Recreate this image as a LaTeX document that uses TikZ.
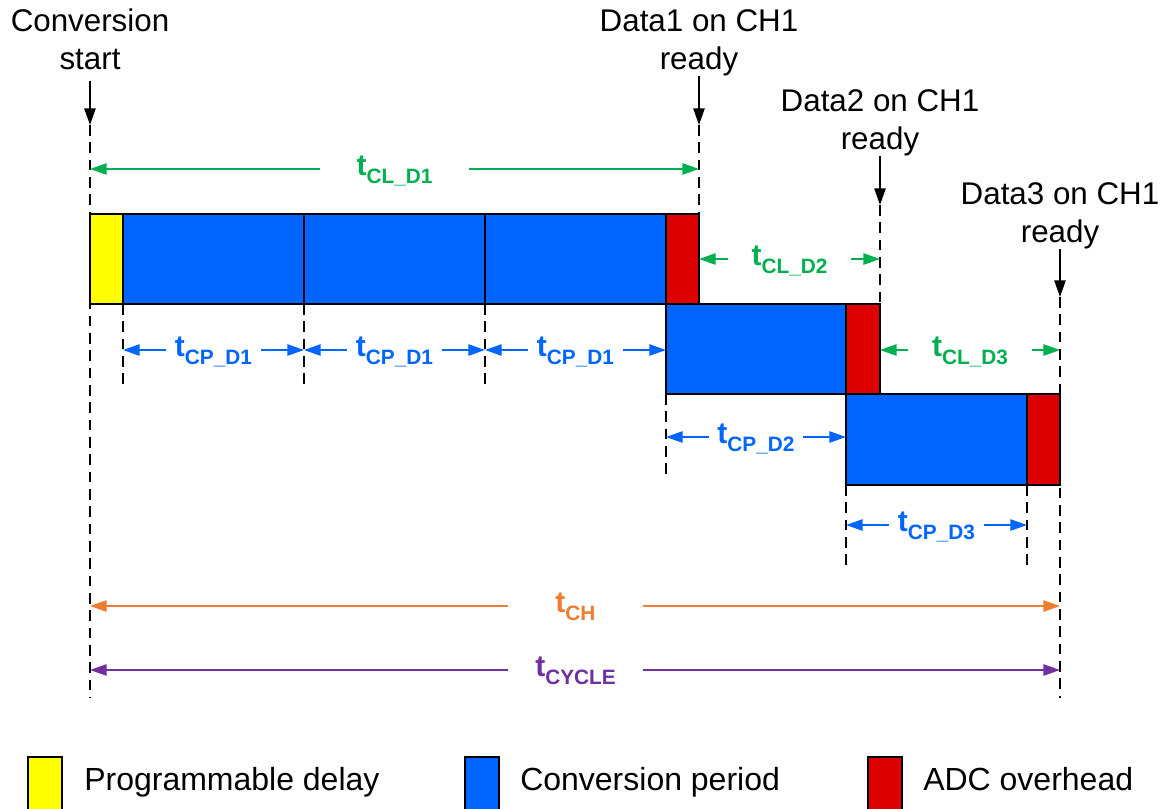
\documentclass[tikz,border=0pt]{standalone}
\usepackage{fontspec}
\setmainfont{Liberation Sans}
\usetikzlibrary{arrows.meta}

\definecolor{cpblue}{HTML}{0066FF}
\definecolor{clgreen}{HTML}{00B050}
\definecolor{ohred}{HTML}{DC0000}
\definecolor{dlyellow}{HTML}{FFFF00}
\definecolor{chorange}{HTML}{ED7D31}
\definecolor{cypurple}{HTML}{7030A0}

% time label: bold "t" with a lowered subscript
\newcommand\tlab[1]{{\fontsize{22.5}{24}\selectfont\bfseries t}\raisebox{-6pt}{\fontsize{15.6}{16}\selectfont\bfseries #1}}

\begin{document}
\begin{tikzpicture}[x=0.75pt,y=-0.75pt,
  seg/.style={draw=black, line width=2.1pt},
  guide/.style={draw=black, line width=1.1pt, dash pattern=on 8pt off 5pt},
  ptr/.style={draw=black, line width=1.1pt, -{Triangle[length=12.5pt,width=8.5pt]}},
  dim/.style={line width=1.2pt, {Triangle[length=12.5pt,width=8.5pt]}-{Triangle[length=12.5pt,width=8.5pt]}},
  dimlbl/.style={fill=white, inner sep=0pt, anchor=base},
  toplbl/.style={align=center, inner sep=0pt, anchor=north, font=\fontsize{23.5}{28.5}\selectfont},
  legtxt/.style={inner sep=0pt, anchor=base west, font=\fontsize{24}{28.5}\selectfont}]

\useasboundingbox (0,0) rectangle (1165,808);
\clip (0,0) rectangle (1165,808);

% event labels and their markers
\node[toplbl] (conv)  at (90,9)      {Conversion\\start};
\node[toplbl] (data1) at (699,9.5)   {Data1 on CH1\\ready};
\node[toplbl] (data2) at (880,89.5)  {Data2 on CH1\\ready};
\node[toplbl] (data3) at (1060,182.5){Data3 on CH1\\ready};

\coordinate (m0) at (90,125);
\coordinate (m1) at (699,125);
\coordinate (m2) at (880,205);
\coordinate (m3) at (1060,297);

\draw[ptr] ([yshift=-7.5pt]conv.south) -- (m0);
\draw[ptr] (data1.south) -- (m1);
\draw[ptr] (data2.south) -- (m2);
\draw[ptr] (data3.south) -- (m3);

% dashed guide lines
\draw[guide] (m0) -- (90,698);
\draw[guide] (m1) -- (699,214);
\draw[guide] (m2) -- (880,304);
\draw[guide] (m3) -- (1060,698);
\foreach \gx in {123,304,485} \draw[guide] (\gx,304) -- (\gx,386);
\draw[guide] (666,394) -- (666,476);
\foreach \gx in {846,1027} \draw[guide] (\gx,485) -- (\gx,567);

% first conversion row
\draw[seg, fill=dlyellow] (90,214) rectangle (123,304);
\draw[seg, fill=cpblue]   (123,214) rectangle (304,304);
\draw[seg, fill=cpblue]   (304,214) rectangle (485,304);
\draw[seg, fill=cpblue]   (485,214) rectangle (666,304);
\draw[seg, fill=ohred]    (666,214) rectangle (699,304);
% second conversion row
\draw[seg, fill=cpblue]   (666,304) rectangle (846,394);
\draw[seg, fill=ohred]    (846,304) rectangle (880,394);
% third conversion row
\draw[seg, fill=cpblue]   (846,394) rectangle (1027,485);
\draw[seg, fill=ohred]    (1027,394) rectangle (1060,485);

% latency dimensions
\draw[dim, clgreen] (90,169) -- (699,169);
\node[dimlbl, text=clgreen, minimum width=111.75pt] (lcl1) at (394.5,175) {\tlab{CL\_D1}};
\draw[dim, clgreen] (699,259) -- (880,259);
\node[dimlbl, text=clgreen, minimum width=92pt] (lcl2) at (789.5,265) {\tlab{CL\_D2}};
\draw[dim, clgreen] (880,350) -- (1060,350);
\node[dimlbl, text=clgreen, minimum width=93pt] (lcl3) at (970,356) {\tlab{CL\_D3}};

% conversion period dimensions
\draw[dim, cpblue] (123,350) -- (304,350);
\node[dimlbl, text=cpblue, minimum width=71pt] (lcpa) at (213.5,356) {\tlab{CP\_D1}};
\draw[dim, cpblue] (304,350) -- (485,350);
\node[dimlbl, text=cpblue, minimum width=71pt] (lcpb) at (394.5,356) {\tlab{CP\_D1}};
\draw[dim, cpblue] (485,350) -- (666,350);
\node[dimlbl, text=cpblue, minimum width=71pt] (lcpc) at (575.5,356) {\tlab{CP\_D1}};
\draw[dim, cpblue] (666,437) -- (846,437);
\node[dimlbl, text=cpblue, minimum width=71pt] (lcp2) at (756,443) {\tlab{CP\_D2}};
\draw[dim, cpblue] (846,525) -- (1027,525);
\node[dimlbl, text=cpblue, minimum width=71pt] (lcp3) at (936.5,531) {\tlab{CP\_D3}};

% channel and cycle time
\draw[dim, chorange] (90,606) -- (1060,606);
\node[dimlbl, text=chorange, minimum width=101pt] (lch) at (575.5,612) {\tlab{CH}};
\draw[dim, cypurple] (90,670) -- (1060,670);
\node[dimlbl, text=cypurple, minimum width=101pt] (lcyc) at (575.5,676) {\tlab{CYCLE}};

% legend
\draw[seg, fill=dlyellow] (28,757) rectangle (62,830);
\node[legtxt] (kd) at (84,790) {Programmable delay};
\draw[seg, fill=cpblue] (465,757) rectangle (499,830);
\node[legtxt] (kc) at (520,790) {Conversion period};
\draw[seg, fill=ohred] (868,757) rectangle (902,830);
\node[legtxt] (ko) at (923,790) {ADC overhead};

\end{tikzpicture}
\end{document}
